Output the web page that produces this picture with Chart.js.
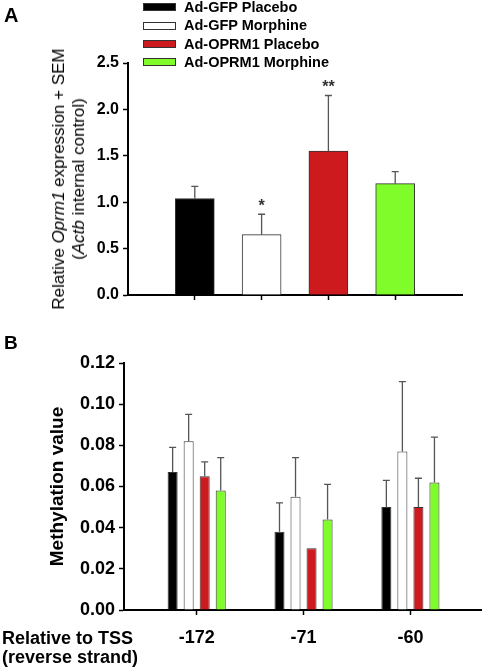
<!DOCTYPE html>
<html>
<head>
<meta charset="utf-8">
<script src="https://cdn.jsdelivr.net/npm/chart.js@4.4.1/dist/chart.umd.min.js"></script>
<style>
  body { margin: 0; background: #fff; }
  #wrap { position: relative; width: 482px; height: 672px; font-family: 'Liberation Sans', Arial, sans-serif; color: #000; }
  canvas { position: absolute; left: 0; }
  .lbl { position: absolute; font-weight: bold; white-space: nowrap; }
  #legend { position: absolute; left: 143px; top: -2px; font-size: 14.5px; font-weight: bold; line-height: 18.4px; }
  #legend .row { display: flex; align-items: center; height: 18.4px; }
  #legend .sw { width: 31px; height: 6px; border: 1px solid #333; margin-right: 8px; }
  #ytitleA { position: absolute; left: 69px; top: 179px; transform: translate(-50%, -50%) rotate(-90deg);
    font-size: 17px; line-height: 20px; white-space: nowrap; text-align: center; }
</style>
</head>
<body>
<div id="wrap">
  <canvas id="chartA" width="482" height="330" style="top:0"></canvas>
  <canvas id="chartB" width="482" height="342" style="top:330px"></canvas>
  <div class="lbl" style="left:4px; top:5px; font-size:20px; line-height:20px">A</div>
  <div class="lbl" style="left:4px; top:333px; font-size:19px; line-height:19px">B</div>
  <div id="legend"></div>
  <div id="ytitleA">Relative <i>Oprm1</i> expression + SEM<br>(<i>Actb</i> internal control)</div>
  <div class="lbl" style="left:2px; top:629px; font-size:18px; line-height:19px">Relative to TSS<br>(reverse strand)</div>
</div>
<script>
// grupos
const groupNames = ['Ad-GFP Placebo', 'Ad-GFP Morphine', 'Ad-OPRM1 Placebo', 'Ad-OPRM1 Morphine'];
const groupColors = ['#000000', '#ffffff', '#cc1a1e', '#80fc2a'];

// painel A - expressao Oprm1
const exprMean = [1.04, 0.65, 1.55, 1.20];
const exprSem = [0.13, 0.22, 0.60, 0.13];
const exprStars = ['', '*', '**', ''];

// painel B - metilacao
const sites = ['-172', '-71', '-60'];
const methMean = [
    [0.067, 0.038, 0.050],
    [0.082, 0.055, 0.077],
    [0.065, 0.030, 0.050],
    [0.058, 0.044, 0.062]
];
const methSem = [
    [0.012, 0.014, 0.013],
    [0.013, 0.019, 0.034],
    [0.007, null, 0.014],
    [0.016, 0.017, 0.022]
];

Chart.defaults.font.family = "'Liberation Sans', Arial, sans-serif";
Chart.defaults.color = '#000';

// legenda
const legend = document.getElementById('legend');
groupNames.forEach(function(name, i) {
    const row = document.createElement('div');
    row.className = 'row';
    const sw = document.createElement('span');
    sw.className = 'sw';
    sw.style.background = groupColors[i];
    const t = document.createElement('span');
    t.textContent = name;
    row.appendChild(sw);
    row.appendChild(t);
    legend.appendChild(row);
});

// barras de erro (so para cima) e asteriscos
const errorBars = {
    id: 'errorBars',
    afterDatasetsDraw(chart) {
        const ctx = chart.ctx;
        const y = chart.scales.y;
        chart.data.datasets.forEach(function(ds, i) {
            const meta = chart.getDatasetMeta(i);
            meta.data.forEach(function(bar, j) {
                const e = ds.sem[j];
                if (e == null) return;
                const top = y.getPixelForValue(ds.data[j].y + e);
                ctx.save();
                ctx.strokeStyle = '#555';
                ctx.lineWidth = 1.3;
                ctx.beginPath();
                ctx.moveTo(bar.x, bar.y);
                ctx.lineTo(bar.x, top);
                ctx.moveTo(bar.x - 3.5, top);
                ctx.lineTo(bar.x + 3.5, top);
                ctx.stroke();
                if (ds.stars && ds.stars[j]) {
                    ctx.fillStyle = '#333';
                    ctx.font = "bold 16px 'Liberation Sans', Arial, sans-serif";
                    ctx.textAlign = 'center';
                    ctx.textBaseline = 'alphabetic';
                    ctx.fillText(ds.stars[j], bar.x, top - 3);
                }
                ctx.restore();
            });
        });
    }
};

function axisGrid() {
    return { display: true, drawOnChartArea: false, drawTicks: true, tickLength: 5, tickColor: '#000', tickWidth: 1.5, offset: false };
}

// grafico A
const dataA = groupNames.map(function(name, i) {
    return {
        label: name,
        data: [{ x: i + 1, y: exprMean[i] }],
        sem: [exprSem[i]],
        stars: [exprStars[i]],
        backgroundColor: groupColors[i],
        borderColor: '#333',
        borderWidth: 1,
        borderSkipped: 'bottom',
        barThickness: 39,
        grouped: false
    };
});

new Chart(document.getElementById('chartA'), {
    type: 'bar',
    data: { datasets: dataA },
    plugins: [errorBars],
    options: {
        responsive: false,
        animation: false,
        layout: { padding: { top: 63, right: 20, left: 0, bottom: 0 } },
        plugins: { legend: { display: false }, tooltip: { enabled: false } },
        scales: {
            x: {
                type: 'linear', min: 0, max: 5, offset: false,
                ticks: { stepSize: 1, display: false },
                afterBuildTicks: function(s) { s.ticks = s.ticks.filter(function(t) { return t.value >= 1 && t.value <= 4; }); },
                afterFit: function(s) { s.height = 35; },
                grid: axisGrid(),
                border: { color: '#000', width: 2 }
            },
            y: {
                min: 0, max: 2.5,
                ticks: { stepSize: 0.5, padding: 4, font: { size: 16, weight: 'bold' }, callback: function(v) { return v.toFixed(1); } },
                afterFit: function(s) { s.width = 128; },
                grid: axisGrid(),
                border: { color: '#000', width: 2 }
            }
        }
    }
});

// grafico B
const dataB = groupNames.map(function(name, i) {
    return {
        label: name,
        data: methMean[i].map(function(v, j) { return { x: j, y: v }; }),
        sem: methSem[i],
        backgroundColor: groupColors[i],
        borderColor: '#333',
        borderWidth: 1,
        borderSkipped: 'bottom',
        categoryPercentage: 0.6,
        barPercentage: 0.625
    };
});

new Chart(document.getElementById('chartB'), {
    type: 'bar',
    data: { datasets: dataB },
    plugins: [errorBars],
    options: {
        responsive: false,
        animation: false,
        layout: { padding: { top: 33, right: 0, left: 0, bottom: 0 } },
        plugins: { legend: { display: false }, tooltip: { enabled: false } },
        scales: {
            x: {
                type: 'linear', min: -0.68, max: 2.67, offset: false,
                ticks: { stepSize: 1, includeBounds: false, padding: 12, font: { size: 18, weight: 'bold' },
                    callback: function(v) { return sites[v]; } },
                afterBuildTicks: function(s) { s.ticks = s.ticks.filter(function(t) { return Number.isInteger(t.value) && t.value >= 0 && t.value <= 2; }); },
                afterFit: function(s) { s.height = 62; },
                grid: axisGrid(),
                border: { color: '#000', width: 2 }
            },
            y: {
                min: 0, max: 0.12,
                ticks: { stepSize: 0.02, padding: 4, font: { size: 18, weight: 'bold' }, callback: function(v) { return v.toFixed(2); } },
                title: { display: true, text: 'Methylation value', font: { size: 19, weight: 'bold' }, padding: { top: 46, bottom: 0 } },
                afterFit: function(s) { s.width = 124; },
                grid: axisGrid(),
                border: { color: '#000', width: 2 }
            }
        }
    }
});
</script>
</body>
</html>
